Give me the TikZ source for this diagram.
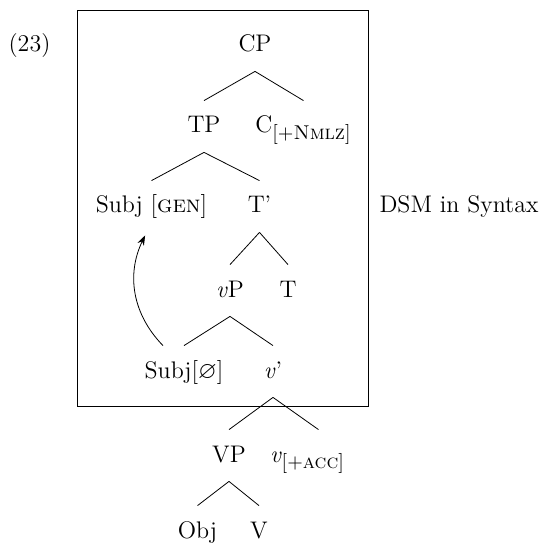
\documentclass[tikz,border=0pt]{standalone}
\usepackage{amsmath}
\usepackage{amssymb}
\usetikzlibrary{arrows.meta}

\begin{document}
\begin{tikzpicture}[x=0.5pt, y=-0.5pt, font=\large,
  cat/.style={anchor=base, text height=6.5pt, text depth=0pt, inner ysep=9.5pt, inner xsep=0pt},
  move/.style={-{Stealth[length=5pt, width=3.5pt]}, bend left=35}]
\useasboundingbox (0,0) rectangle (544,545);
\draw (77,10) rectangle (368,406);
\node[anchor=base] (ex) at (29.5,52) {(23)};
\node[anchor=base] (dsm) at (459,213) {DSM in Syntax};
\node[cat] (CP) at (255,52) {CP};
\node[cat] (TP) at (204,133) {TP};
\node[cat] (C) at (303.5,133) {C\textsubscript{\normalsize[+\textsc{Nmlz}]}};
\node[cat] (subjgen) at (151.5,213) {Subj [\textsc{gen}]};
\node[cat] (Tbar) at (259.5,213) {T'};
\node[cat] (vP) at (230,297) {\textit{v}P};
\node[cat] (T) at (288,297) {T};
\node[cat] (subjnull) at (184,378) {Subj[$\varnothing$]};
\node[cat] (vbar) at (273,378) {\textit{v}'};
\node[cat] (VP) at (229,462) {VP};
\node[cat] (vacc) at (307.5,462) {\textit{v}\textsubscript{\normalsize[+\textsc{acc}]}};
\node[cat] (Obj) at (197.5,538) {Obj};
\node[cat] (V) at (259,538) {V};
\foreach \a/\b in {CP/TP, CP/C, TP/subjgen, TP/Tbar, Tbar/vP, Tbar/T, vP/subjnull, vP/vbar, vbar/VP, VP/Obj, VP/V}
  \draw (\a.south) -- (\b.north);
\draw (vbar.south) -- ([xshift=5.5pt]vacc.north);
\draw[move] ([xshift=-10.5pt]subjnull.north) to ([xshift=-3.2pt, yshift=-1.5pt]subjgen.south);
\end{tikzpicture}
\end{document}
